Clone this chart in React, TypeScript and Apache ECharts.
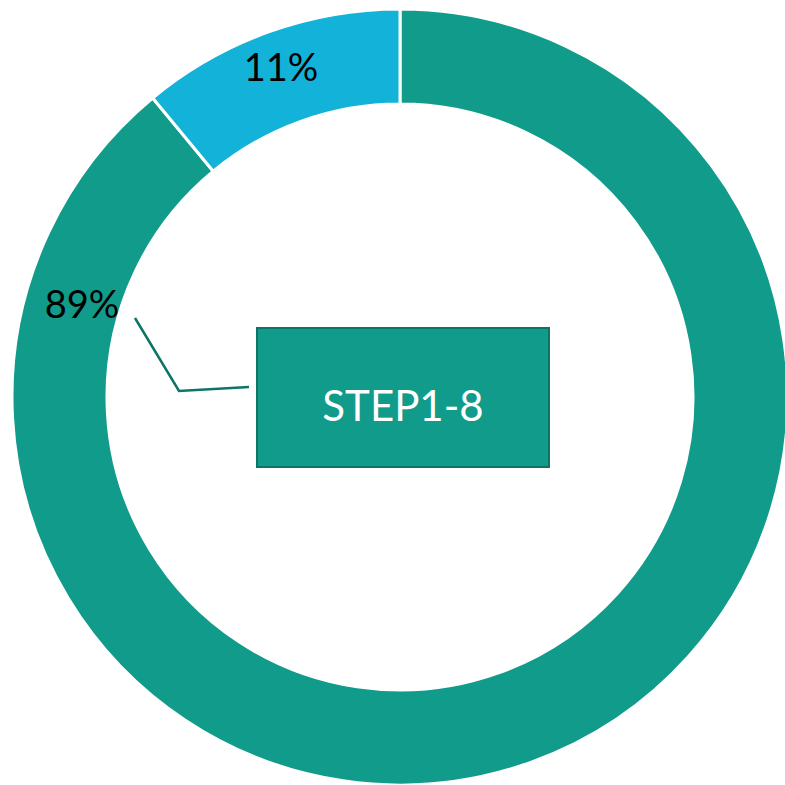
import React, { useEffect, useRef } from "react";
import * as echarts from "echarts";

const categories = ["Main", "Other"];
const values = [89, 11];
const colors = ["#119b8a", "#12b2d9"];
const percentLabels = ["89%", "11%"];
const calloutText = "STEP1-8";

export default function App() {
  const ref = useRef<HTMLDivElement>(null);
  useEffect(() => {
    if (!ref.current) return;
    const chart = echarts.init(ref.current, undefined, { renderer: "svg" });
    const labelPos = [
      { x: 82, y: 303 },
      { x: 281, y: 66 },
    ];
    chart.setOption({
      animation: false,
      backgroundColor: "#ffffff",
      series: [
        {
          type: "pie",
          center: [400, 397],
          radius: [293, 388],
          startAngle: 90,
          clockwise: true,
          avoidLabelOverlap: false,
          itemStyle: { borderColor: "#ffffff", borderWidth: 3 },
          label: {
            show: true,
            position: "inside",
            formatter: (p: any) => percentLabels[p.dataIndex],
            color: "#000000",
            fontFamily: "Lato",
            fontSize: 38,
          },
          labelLine: { show: false },
          labelLayout: (p: any) => ({
            x: labelPos[p.dataIndex].x,
            y: labelPos[p.dataIndex].y,
            align: "center",
            verticalAlign: "middle",
          }),
          emphasis: { disabled: true },
          data: categories.map((c, i) => ({
            name: c,
            value: values[i],
            itemStyle: { color: colors[i] },
          })),
        },
      ],
      graphic: [
        {
          type: "polyline",
          shape: {
            points: [
              [135, 318],
              [179, 391],
              [249, 387],
            ],
          },
          style: { stroke: "#0c7566", lineWidth: 2.5, fill: null },
        },
        {
          type: "rect",
          shape: { x: 257, y: 328, width: 292, height: 139 },
          style: { fill: "#119b8a", stroke: "#0c7566", lineWidth: 2 },
        },
        {
          type: "text",
          x: 403,
          y: 405,
          style: {
            text: calloutText,
            fill: "#ffffff",
            font: "42px Lato",
            align: "center",
            verticalAlign: "middle",
          },
        },
      ],
    });
    return () => chart.dispose();
  }, []);
  return (
    <div
      ref={ref}
      style={{ position: "fixed", left: 0, top: 0, width: 785, height: 785 }}
    />
  );
}
